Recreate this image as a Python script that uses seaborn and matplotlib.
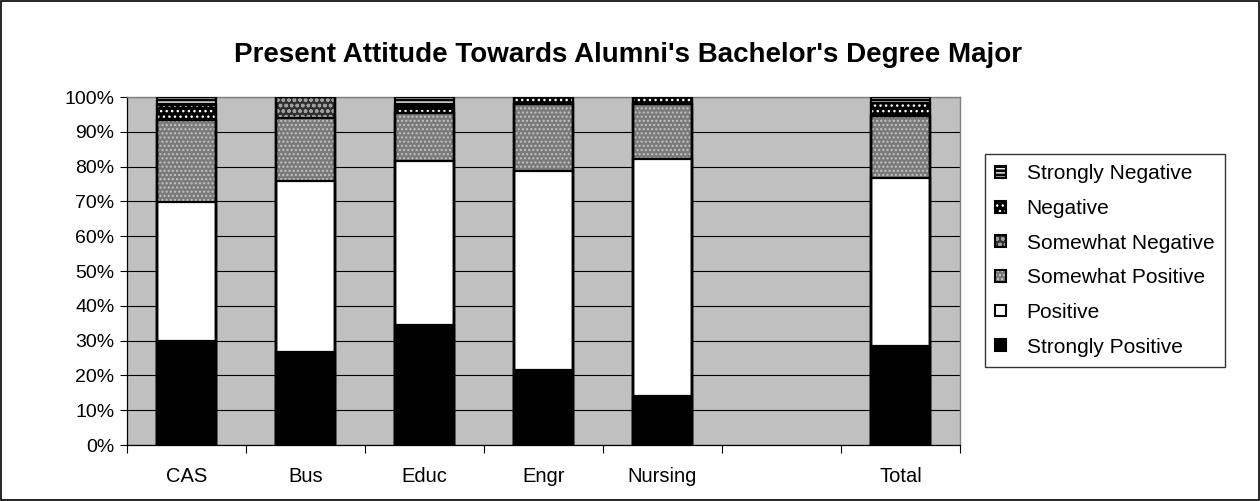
import matplotlib
matplotlib.use("Agg")
import matplotlib.pyplot as plt
from matplotlib.patches import Patch, Rectangle
import seaborn as sns
import pandas as pd
import numpy as np

categories = ["CAS", "Bus", "Educ", "Engr", "Nursing", "Total"]
order = ["CAS", "Bus", "Educ", "Engr", "Nursing", " ", "Total"]

strongly_positive = [30.0, 26.7, 34.5, 21.6, 14.1, 28.4]
positive          = [39.8, 49.2, 47.1, 57.2, 68.1, 48.2]
somewhat_positive = [23.7, 18.1, 13.9, 19.2, 15.8, 17.9]
somewhat_negative = [0.0, 6.0, 0.0, 0.0, 0.0, 0.0]
negative          = [4.1, 0.0, 2.0, 2.0, 2.0, 3.9]
strongly_negative = [2.4, 0.0, 2.5, 0.0, 0.0, 1.6]

series_names = ["Strongly Positive", "Positive", "Somewhat Positive",
                "Somewhat Negative", "Negative", "Strongly Negative"]
series_vals = [strongly_positive, positive, somewhat_positive,
               somewhat_negative, negative, strongly_negative]
ytick_labels = ["0%", "10%", "20%", "30%", "40%", "50%", "60%", "70%", "80%", "90%", "100%"]

# style: (facecolor, hatchcolor, hatch)
styles = {
    "Strongly Positive": ("black", "black", None),
    "Positive": ("white", "white", None),
    "Somewhat Positive": ("#7a7a7a", "#c4c4c4", "...."),
    "Somewhat Negative": ("#303030", "#a0a0a0", "ooo"),
    "Negative": ("black", "white", "..."),
    "Strongly Negative": ("black", "white", "----"),
}

sns.set_theme(style="white")
plt.rcParams["font.family"] = ["Liberation Sans", "DejaVu Sans"]
plt.rcParams["hatch.linewidth"] = 1.0
for k in ["text.color", "axes.labelcolor", "xtick.color", "ytick.color"]:
    plt.rcParams[k] = "black"

fig = plt.figure(figsize=(12.6, 5.01), dpi=100)
ax = fig.add_axes([127/1260, 56/501, 833/1260, 348/501])
ax.set_facecolor("#c0c0c0")

cum = np.cumsum(np.array(series_vals), axis=0)

# fill layers, top-down
for i in range(len(series_names) - 1, -1, -1):
    name = series_names[i]
    fc, hc, hatch = styles[name]
    df = pd.DataFrame({"cat": categories, "val": cum[i]})
    n_before = len(ax.patches)
    sns.barplot(data=df, x="cat", y="val", order=order, color=fc, width=0.5,
                edgecolor=hc, linewidth=0, saturation=1, ax=ax, zorder=2)
    for p in ax.patches[n_before:]:
        p.set_facecolor(fc)
        p.set_edgecolor(hc)
        p.set_linewidth(0)
        if hatch:
            p.set_hatch(hatch)

# outlines
for i in range(len(series_names) - 1, -1, -1):
    df = pd.DataFrame({"cat": categories, "val": cum[i]})
    sns.barplot(data=df, x="cat", y="val", order=order, fill=False, width=0.5,
                edgecolor="black", linewidth=1.6, ax=ax, zorder=3)

ax.set_xlim(-0.5, 6.5)
ax.set_ylim(0, 100)
ax.set_xlabel("")
ax.set_ylabel("")

ax.set_yticks(np.arange(0, 101, 10))
ax.set_yticklabels(ytick_labels, fontsize=14)
ax.yaxis.grid(True, color="black", linewidth=0.8, zorder=1)
ax.set_axisbelow(True)

ax.set_xticks(np.arange(-0.5, 7, 1))
ax.set_xticklabels([""] * 8)
ax.set_xticks(np.arange(0, 7), minor=True)
ax.set_xticklabels([c.strip() for c in order], minor=True, fontsize=14.5)
ax.tick_params(axis="x", which="major", direction="out", length=6, width=0.8, color="black", bottom=True)
ax.tick_params(axis="x", which="minor", length=0, pad=16, bottom=True)
ax.tick_params(axis="y", direction="out", length=5, width=0.8, color="black", left=True, pad=4)

for s in ["left", "bottom"]:
    ax.spines[s].set_color("black")
    ax.spines[s].set_linewidth(0.9)
for s in ["top", "right"]:
    ax.spines[s].set_color("#808080")
    ax.spines[s].set_linewidth(1.0)

fig.text(628/1260, 1 - 55/501, "Present Attitude Towards Alumni's Bachelor's Degree Major",
         ha="center", va="center", fontsize=20, fontweight="bold", color="black")

handles = []
for name in reversed(series_names):
    fc, hc, hatch = styles[name]
    fill_patch = Patch(facecolor=fc, edgecolor=hc, hatch=hatch, linewidth=0)
    edge_patch = Patch(facecolor="none", edgecolor="black", linewidth=1.5)
    handles.append((fill_patch, edge_patch))
leg = fig.legend(handles, list(reversed(series_names)), loc="upper left",
                 bbox_to_anchor=(985/1260, 1 - 154/501), frameon=True, fancybox=False,
                 fontsize=15, handlelength=0.5, handleheight=0.5, labelspacing=0.75,
                 borderpad=0.5, handletextpad=1.0, borderaxespad=0)
leg.get_frame().set_edgecolor("black")
leg.get_frame().set_linewidth(1.0)

fig.patches.append(Rectangle((0.001, 0.002), 0.998, 0.996, transform=fig.transFigure,
                             fill=False, edgecolor="black", linewidth=1.2))

fig.savefig("out.png", dpi=100)
